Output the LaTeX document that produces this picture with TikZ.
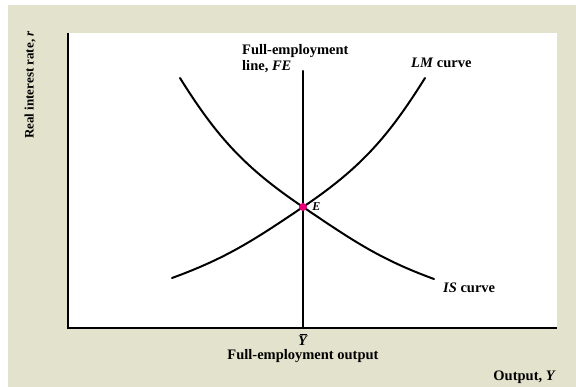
\documentclass[tikz,border=0pt]{standalone}
\usepackage{fontspec}
\setmainfont{Liberation Serif}
\usepackage{xcolor}
\usepackage{tikz}
\usetikzlibrary{positioning}

\definecolor{panel}{RGB}{227,227,205}
\definecolor{dotpink}{RGB}{230,0,120}

\begin{document}
\begin{tikzpicture}[x=1pt, y=1pt,
  lbl/.style={font=\fontsize{14.5}{16}\selectfont\bfseries, inner sep=0pt, align=left},
  curve/.style={line width=2pt, line cap=round}
]
  \useasboundingbox (0,0) rectangle (576,387);
  % panel and plot area
  \fill[panel] (8,0) rectangle (576,382);
  \fill[white] (68,59) rectangle (557,354);

  % axes
  \coordinate (O) at (68,59);
  \coordinate (ytop) at (68,354);
  \coordinate (xend) at (557,59);
  \draw[line width=1.2pt] (ytop) -- (O) -- (xend);

  % curve ends
  \coordinate (fetop) at (303,316);
  \coordinate (febot) at (303,59);
  \coordinate (lmlo) at (172,109);
  \coordinate (lmhi) at (425,309);
  \coordinate (ishi) at (180,309);
  \coordinate (islo) at (434,108);

  \draw[curve] (febot) -- (fetop);
  \draw[curve] (lmlo) to[out=20,in=214] (303,180) to[out=34,in=238] (lmhi);
  \draw[curve] (ishi) to[out=-58,in=146] (303,180) to[out=-34,in=160] (islo);
  \node (E) at (303,180) [circle, fill=dotpink, inner sep=0pt, minimum size=8pt] {};

  % labels
  \node (felbl) [lbl, anchor=west] at (242,328) {Full-employment\\line, \textit{FE}};
  \node (lmlbl) [lbl, anchor=west] at (411,324) {\textit{LM} curve};
  \node (islbl) [lbl, anchor=west] at (443,99) {\textit{IS} curve};
  \node (elbl) [right=5pt of E, font=\fontsize{12}{13}\selectfont\bfseries\itshape, inner sep=0pt] {E};
  \node (ybar) [lbl, anchor=base] at (303,41) {\textit{Y}};
  \draw[line width=0.7pt] ([xshift=-3.5pt,yshift=1.5pt]ybar.north) -- ([xshift=3.5pt,yshift=1.5pt]ybar.north);
  \node (fulab) [lbl, anchor=base] at (303,27) {Full-employment output};
  \node (xlab) [lbl, anchor=east] at (556,10) {Output, \textit{Y}};
  \node (ylab) [lbl, font=\fontsize{13}{15}\selectfont\bfseries, rotate=90] at (30,302) {Real interest rate, \textit{r}};
\end{tikzpicture}
\end{document}
